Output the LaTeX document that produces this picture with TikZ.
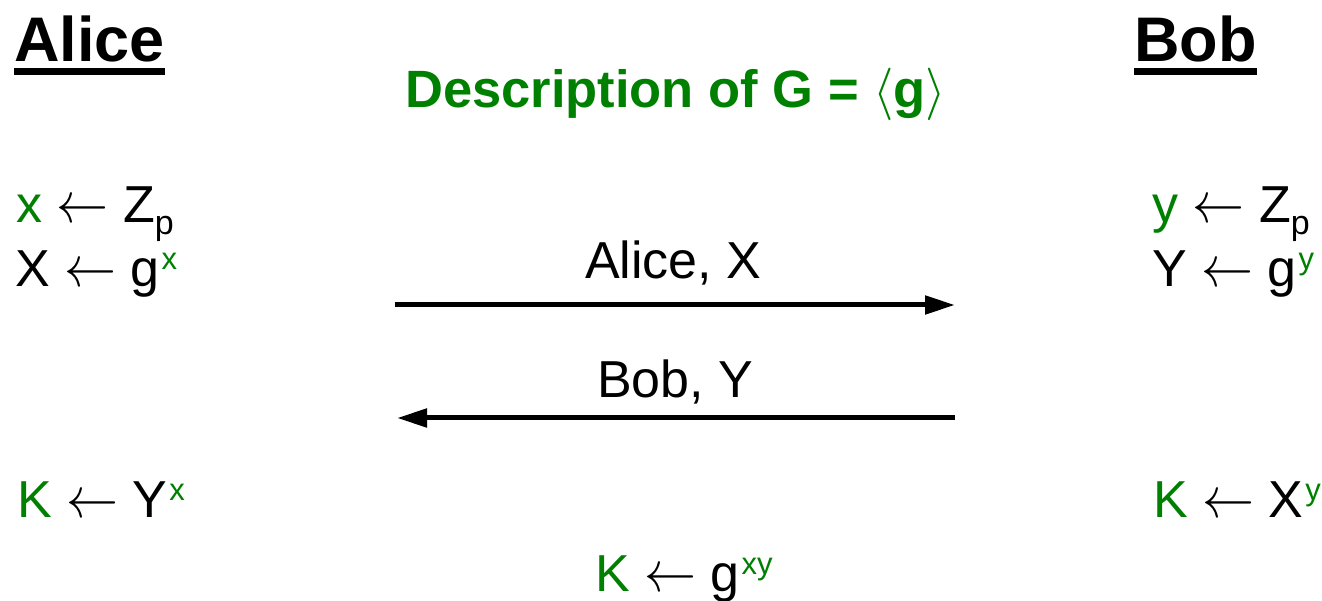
\documentclass[tikz,border=0pt]{standalone}
\usepackage{fix-cm}
\usepackage{fontspec}
\setmainfont{Liberation Sans}
\usetikzlibrary{arrows.meta}
\definecolor{dgreen}{RGB}{0,128,0}
\newcommand{\sz}[1]{\fontsize{#1}{#1}\selectfont}
\newcommand{\supg}[1]{\kern2pt\raisebox{17pt}{\sz{31}\color{dgreen}#1}}
\newcommand{\subp}{\raisebox{-12pt}{\sz{34}p}}
\newcommand{\lar}{\scalebox{1}[1.12]{$\leftarrow$}}
\tikzset{
  txt/.style={anchor=base west, inner sep=0pt, font=\sz{52}},
  head/.style={anchor=base west, inner sep=0pt, font=\bfseries\sz{63}},
  uline/.style={line width=6.5pt},
  msg/.style={line width=5pt, -{Triangle[length=30pt,width=18pt]}}
}
\begin{document}
\begin{tikzpicture}[x=1pt,y=1pt]
\useasboundingbox (0,0) rectangle (1322,600);
% headings
\node[head] (alice) at (14,538) {Alice};
\node[head] (bob) at (1134,538) {Bob};
\draw[uline] ([yshift=-9.5pt]alice.base west) -- ([yshift=-9.5pt]alice.base east);
\draw[uline] ([yshift=-9.5pt]bob.base west) -- ([yshift=-9.5pt]bob.base east);
\node[anchor=base west, inner sep=0pt, font=\bfseries\sz{52.5}, text=dgreen] (desc) at (405,492)
  {Description of G = $\langle$g$\rangle$};
% Alice side
\node[txt] (ax) at (16,377) {\textcolor{dgreen}{x} \lar{} Z\subp};
\node[txt] (aX) at (15,313) {X \lar{} g\supg{x}};
% Bob side
\node[txt] (by) at (1152,377) {\textcolor{dgreen}{y} \lar{} Z\subp};
\node[txt] (bY) at (1152,313) {Y \lar{} g\supg{y}};
% messages
\coordinate (m1s) at (395,295);
\coordinate (m1e) at (955,295);
\coordinate (m2s) at (955,182);
\coordinate (m2e) at (397,182);
\draw[msg] (m1s) -- (m1e);
\draw[msg] (m2s) -- (m2e);
\node[txt] (l1) at (585,321) {Alice, X};
\node[txt] (l2) at (597,202) {Bob, Y};
% keys
\node[txt] (ak) at (17,83) {\textcolor{dgreen}{K} \lar{} Y\supg{x}};
\node[txt] (bk) at (1153,83) {\textcolor{dgreen}{K} \lar{} X\supg{y}};
\node[txt] (kk) at (595,9) {\textcolor{dgreen}{K} \lar{} g\supg{xy}};
\end{tikzpicture}
\end{document}
